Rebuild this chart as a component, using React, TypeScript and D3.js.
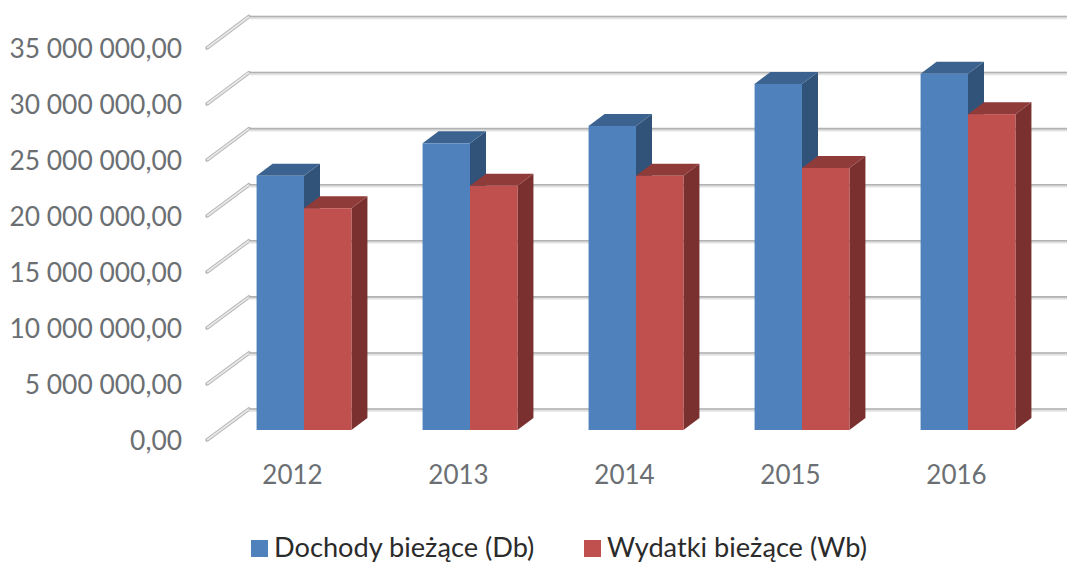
import React, { useEffect, useRef } from 'react';
import * as d3 from 'd3';

const years = ['2012', '2013', '2014', '2015', '2016'];
const seriesNames = ['Dochody bieżące (Db)', 'Wydatki bieżące (Wb)'];
const dochody = [22700000, 25600000, 27150000, 30900000, 31800000];
const wydatki = [19800000, 21800000, 22700000, 23400000, 28200000];
const yTicks = [0, 5000000, 10000000, 15000000, 20000000, 25000000, 30000000, 35000000];

const width = 1067;
const height = 562;
const font = 'Lato, "Open Sans", sans-serif';

const front = ['#4f81bd', '#c0504d'];
const top = ['#3c638f', '#8f3b39'];
const side = ['#315379', '#7a302e'];

function App() {
  const ref = useRef<SVGSVGElement>(null);

  useEffect(() => {
    const svg = d3.select(ref.current);
    svg.selectAll('*').remove();

    // Scales: wall, axis edge and bar front sit on different depths
    const yWall = d3.scaleLinear().domain([0, 35000000]).range([409, 16.5]);
    const yEdge = d3.scaleLinear().domain([0, 35000000]).range([440, 48]);
    const yBar = d3.scaleLinear().domain([0, 35000000]).range([430, 38]);

    const x0 = d3.scaleBand().domain(years).range([221, 1051]);
    const x1 = d3.scaleBand()
      .domain(seriesNames)
      .range([0, x0.bandwidth()])
      .paddingInner(0)
      .paddingOuter(0.75);

    const locale = d3.formatLocale({ decimal: ',', thousands: ' ', grouping: [3], currency: ['', ''] });
    const fmt = locale.format(',.2f');

    // Grid
    const grid = svg.append('g');
    const gridRow = grid.selectAll('g').data(yTicks).join('g');
    gridRow.append('path')
      .attr('d', d => `M207,${yEdge(d)}L249,${yWall(d)}`)
      .attr('stroke', '#b4b4b4')
      .attr('stroke-width', 3.6)
      .attr('stroke-linecap', 'round')
      .attr('fill', 'none');
    gridRow.append('path')
      .attr('d', d => `M207,${yEdge(d)}L249,${yWall(d)}`)
      .attr('stroke', '#e8e8e8')
      .attr('stroke-width', 1.8)
      .attr('fill', 'none');
    gridRow.append('line')
      .attr('x1', 249).attr('x2', width)
      .attr('y1', d => yWall(d) + 1).attr('y2', d => yWall(d) + 1)
      .attr('stroke', '#e2e2e2')
      .attr('stroke-width', 3.5);
    gridRow.append('line')
      .attr('x1', 249).attr('x2', width)
      .attr('y1', d => yWall(d)).attr('y2', d => yWall(d))
      .attr('stroke', '#b2b2b2')
      .attr('stroke-width', 1.6);

    // Bars
    const dx = 16;
    const dy = 12;
    const bw = x1.bandwidth();
    const yearG = svg.append('g').selectAll('g').data(years).join('g');
    yearG.each(function (year, i) {
      const g = d3.select(this);
      [dochody[i], wydatki[i]].forEach((value, s) => {
        const x = x0(year)! + x1(seriesNames[s])!;
        const y = yBar(value);
        const base = yBar(0);
        g.append('path')
          .attr('d', `M${x + bw},${y}L${x + bw + dx},${y - dy}L${x + bw + dx},${base - dy}L${x + bw},${base}Z`)
          .attr('fill', side[s]);
        g.append('path')
          .attr('d', `M${x},${y}L${x + dx},${y - dy}L${x + bw + dx},${y - dy}L${x + bw},${y}Z`)
          .attr('fill', top[s]);
        g.append('rect')
          .attr('x', x).attr('y', y)
          .attr('width', bw).attr('height', base - y)
          .attr('fill', front[s]);
      });
    });

    // Axes
    const yAxis = svg.append('g')
      .attr('transform', 'translate(182,1)')
      .call(d3.axisLeft(yEdge).tickValues(yTicks).tickSize(0).tickPadding(0).tickFormat(d => fmt(d as number)));
    yAxis.select('.domain').remove();
    yAxis.selectAll('text')
      .attr('font-family', font)
      .attr('font-size', 26.4)
      .attr('fill', '#6b6f73');

    const xAxis = svg.append('g')
      .attr('transform', 'translate(-11.5,467)')
      .call(d3.axisBottom(x0).tickSize(0).tickPadding(0));
    xAxis.select('.domain').remove();
    xAxis.selectAll('text')
      .attr('font-family', font)
      .attr('font-size', 26)
      .attr('dy', '0.71em')
      .attr('y', -1)
      .attr('fill', '#6b6f73');

    // Legend
    const legendX = [251, 584];
    const legend = svg.append('g').selectAll('g').data(seriesNames).join('g')
      .attr('transform', (d, i) => `translate(${legendX[i]},540)`);
    legend.append('rect')
      .attr('width', 17).attr('height', 17)
      .attr('fill', (d, i) => front[i]);
    legend.append('text')
      .attr('x', 23).attr('y', 16.5)
      .attr('font-family', font)
      .attr('font-size', 27.2)
      .attr('fill', '#2b2b2b')
      .text(d => d);
  }, []);

  return (
    <svg
      ref={ref}
      width={width}
      height={height}
      style={{ position: 'absolute', left: 0, top: 0, background: '#fff' }}
    />
  );
}

export default App;
